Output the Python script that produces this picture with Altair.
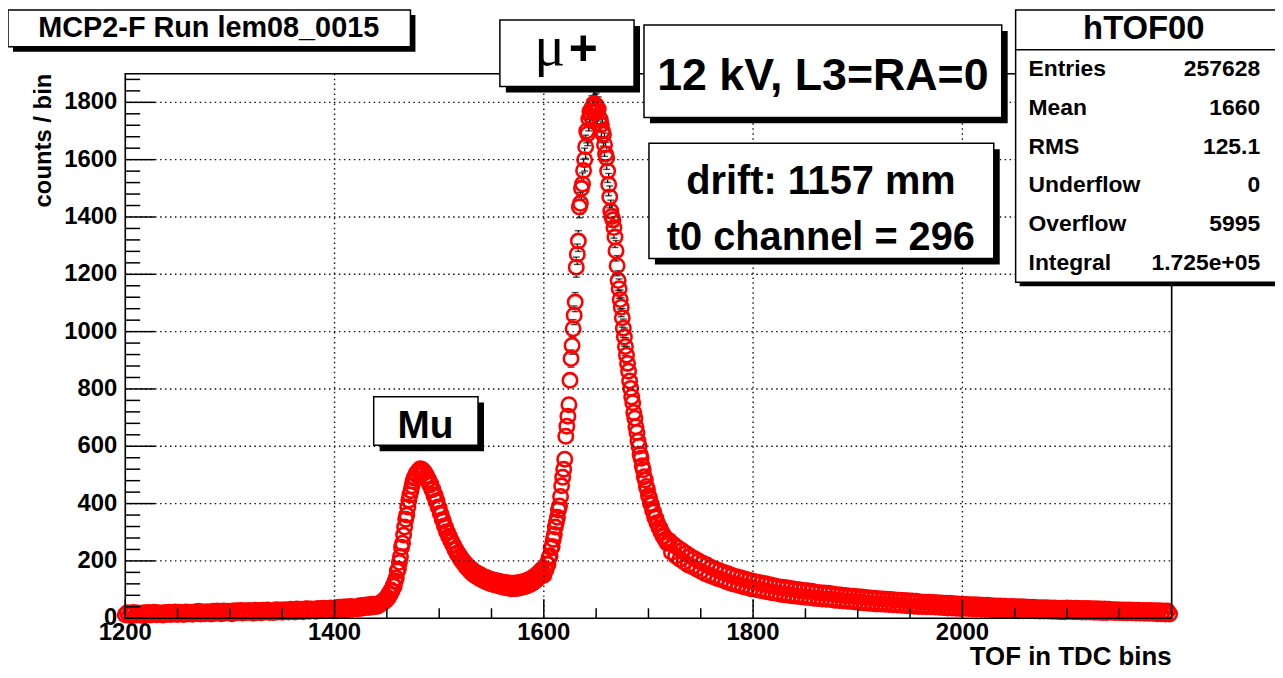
import altair as alt
import pandas as pd

# ---------------- data ----------------
# TOF histogram, counts per bin.  Stretches, each with start bin and bin step.
low_start, low_step = 1200, 2
low_counts = [
    12, 19, 10, 17, 20, 11, 18, 14, 10, 19,
    13, 20, 11, 18, 21, 12, 19, 15, 11, 20,
    14, 21, 13, 19, 22, 13, 21, 16, 13, 22,
    16, 21, 14, 22, 17, 24, 15, 22, 16, 23,
    19, 15, 24, 17, 25, 18, 16, 25, 18, 24,
    20, 16, 26, 19, 25, 27, 18, 26, 20, 27,
    21, 18, 28, 20, 27, 19, 28, 22, 29, 20,
    23, 20, 30, 22, 29, 21, 30, 24, 22, 31,
    25, 22, 32, 24, 31, 23, 32, 33, 24, 32,
    27, 24, 34, 26, 33, 35, 26, 34, 36, 27,
    31, 27, 38, 29, 39, 30, 40, 31, 41, 32,
    37, 33, 44, 35, 45, 37, 47, 38, 49, 40,
]
mu_start, mu_step = 1440, 1
mu_counts = [
    46, 42, 50, 47, 55, 51, 58, 56, 66, 62,
    74, 70, 86, 82, 98, 96, 114, 112, 130, 140,
    165, 172, 195, 215, 248, 262, 290, 318, 345, 360,
    388, 412, 430, 445, 462, 478, 490, 488, 505, 498,
    515, 508, 522, 512, 518, 506, 510, 494, 498, 480,
    484, 465, 468, 448, 450, 428, 430, 408, 410, 388,
    385, 366, 362, 344, 340, 322, 318, 302, 300, 286,
    284, 270, 268, 256, 254, 240, 240, 226, 228, 214,
    216, 202, 206, 193, 196, 182, 188, 174, 180, 166,
    174, 158, 168, 152, 162, 147, 158, 142, 154, 138,
    150, 134, 146, 130, 143, 127, 140, 124, 137, 121,
    135, 119, 133, 117, 131, 115, 130, 113, 128, 111,
    126, 109, 125, 107, 124, 106, 123, 105, 122, 104,
    122, 104, 122, 104, 123, 105, 124, 106, 125, 108,
    127, 110, 129, 112, 132, 115, 135, 118, 139, 122,
    144, 127, 149, 133, 155, 140, 162, 148, 170, 158,
]
peak_start, peak_step = 1600, 1
peak_counts = [
    150, 172, 168, 190, 188, 212, 218, 245, 250, 275,
    292, 318, 335, 352, 378, 392, 425, 462, 492, 520,
    555, 635, 670, 705, 745, 830, 906, 952, 1010, 1057,
    1103, 1225, 1270, 1316, 1435, 1448, 1500, 1515, 1562, 1600,
    1645, 1700, 1690, 1742, 1768, 1752, 1781, 1770, 1796, 1785,
    1790, 1768, 1777, 1745, 1738, 1722, 1700, 1688, 1652, 1620,
    1606, 1560, 1513, 1470, 1421, 1402, 1390, 1363, 1330, 1282,
    1230, 1178, 1150, 1112, 1085, 1048, 1012, 981, 948, 918,
    889, 862, 828, 802, 772, 752, 718, 698, 668, 648,
    618, 600, 572, 558, 532, 518, 494, 482, 460, 450,
    428, 420, 400, 396, 376, 370, 352, 350, 333, 330,
    316, 315, 300, 299, 286, 287, 274, 276, 262, 266,
]
tail_start, tail_step = 1720, 2
tail_counts = [
    270, 230, 257, 217, 246, 206, 236, 196, 226, 186,
    216, 180, 208, 172, 200, 164, 192, 156, 186, 150,
    177, 145, 171, 139, 166, 134, 160, 128, 155, 123,
    149, 119, 145, 115, 141, 111, 137, 107, 133, 103,
    129, 101, 126, 98, 123, 95, 120, 92, 117, 89,
    113, 87, 110, 84, 108, 82, 106, 80, 104, 78,
    101, 77, 99, 75, 97, 73, 96, 72, 94, 70,
    91, 69, 89, 67, 88, 66, 87, 65, 85, 63,
    82, 62, 81, 61, 79, 59, 78, 58, 77, 57,
    75, 55, 74, 54, 72, 52, 71, 51, 70, 50,
    68, 50, 67, 49, 66, 48, 65, 47, 64, 46,
    63, 45, 62, 44, 61, 43, 60, 42, 59, 41,
    57, 41, 56, 40, 56, 40, 55, 39, 54, 38,
    53, 37, 52, 36, 52, 36, 51, 35, 50, 34,
    49, 35, 48, 34, 47, 33, 47, 33, 46, 32,
    45, 31, 45, 31, 44, 30, 43, 29, 43, 29,
    42, 28, 41, 27, 41, 27, 40, 26, 40, 26,
    39, 27, 38, 26, 38, 26, 37, 25, 37, 25,
    37, 25, 36, 24, 36, 24, 35, 23, 35, 23,
    36, 24, 35, 23, 35, 23, 34, 22, 34, 22,
    34, 22, 33, 21, 33, 21, 32, 20, 32, 20,
    31, 21, 30, 20, 30, 20, 29, 19, 29, 19,
    29, 19, 28, 18, 28, 18, 27, 17, 27, 17,
    27, 17, 26, 16, 26, 16, 25, 15, 25, 15,
]

x_domain = [1200, 2200]
y_domain = [0, 1900]
x_tick_labels = [1200, 1400, 1600, 1800, 2000]
y_tick_labels = [0, 200, 400, 600, 800, 1000, 1200, 1400, 1600, 1800]
x_minor_ticks = [v for v in range(1250, 2200, 50) if v % 200 != 0]
y_minor_ticks = [v for v in range(40, 1900, 40) if v % 200 != 0]

title_text = "MCP2-F Run lem08_0015"
x_title = "TOF in TDC bins"
y_title = "counts / bin"
stats_name = "hTOF00"
stats_labels = ["Entries", "Mean", "RMS", "Underflow", "Overflow", "Integral"]
stats_values = ["257628", "1660", "125.1", "0", "5995", "1.725e+05"]
mu_plus_text = ["\u03bc", "+"]
mu_text = "Mu"
energy_text = "12 kV, L3=RA=0"
drift_lines = ["drift: 1157 mm", "t0 channel = 296"]

# ---------------- table ----------------
tof, cnt = [], []
for start, step, vals in [(low_start, low_step, low_counts),
                          (mu_start, mu_step, mu_counts),
                          (peak_start, peak_step, peak_counts),
                          (tail_start, tail_step, tail_counts)]:
    for i, v in enumerate(vals):
        tof.append(start + step * i)
        cnt.append(v)
hist = pd.DataFrame({"tof": tof, "count": cnt})

# ---------------- layout ----------------
W, H = 1053, 548
FONT = "Liberation Sans"
xs = alt.Scale(domain=x_domain, nice=False, zero=False)
ys = alt.Scale(domain=y_domain, nice=False, zero=False)
R = 30  # marker radius in count units (error bars start outside marker)


def one():
    return alt.Chart(pd.DataFrame({"k": [0]}))


def box(x1, y1, x2, y2, sh=5):
    shadow = one().mark_rect(color="black").encode(
        x=alt.value(x1 + sh), x2=alt.value(x2 + sh),
        y=alt.value(y1 + sh), y2=alt.value(y2 + sh))
    face = one().mark_rect(fill="white", stroke="black", strokeWidth=1.5).encode(
        x=alt.value(x1), x2=alt.value(x2), y=alt.value(y1), y2=alt.value(y2))
    return [shadow, face]


def label(s, x, y, size, align="center", weight="bold", font=FONT, angle=0,
          baseline="alphabetic"):
    return one().mark_text(align=align, baseline=baseline, fontSize=size, angle=angle,
                           fontWeight=weight, font=font, color="black").encode(
        x=alt.value(x), y=alt.value(y), text=alt.value(s))


base = alt.Chart(hist)
xe = alt.X("tof:Q", scale=xs, axis=None)
points = base.mark_point(shape="circle", filled=False, size=210, strokeWidth=2.6,
                         color="#ff0000", opacity=1).encode(
    x=xe, y=alt.Y("count:Q", scale=ys, axis=None))

err = base.transform_calculate(err="sqrt(datum.count)").transform_filter(
    f"datum.err > {R}").transform_calculate(
    up1=f"datum.count + {R}", up2="datum.count + datum.err",
    dn1="datum.count - datum.err", dn2=f"datum.count - {R}")
err_up = err.mark_rule(color="black", strokeWidth=1.4).encode(
    x=xe, y=alt.Y("up1:Q", scale=ys, axis=None), y2="up2:Q")
err_dn = err.mark_rule(color="black", strokeWidth=1.4).encode(
    x=xe, y=alt.Y("dn1:Q", scale=ys, axis=None), y2="dn2:Q")
cap_up = err.mark_tick(color="black", thickness=1.4, size=7, orient="horizontal").encode(
    x=xe, y=alt.Y("up2:Q", scale=ys, axis=None))
cap_dn = err.mark_tick(color="black", thickness=1.4, size=7, orient="horizontal").encode(
    x=xe, y=alt.Y("dn1:Q", scale=ys, axis=None))

grid_style = dict(color="#111111", strokeDash=[1.5, 3.5], strokeWidth=1.4)
x_grid = alt.Chart(pd.DataFrame({"v": x_tick_labels[1:]})).mark_rule(**grid_style).encode(
    x=alt.X("v:Q", scale=xs, axis=None), y=alt.value(0), y2=alt.value(H))
y_grid = alt.Chart(pd.DataFrame({"v": y_tick_labels[1:]})).mark_rule(**grid_style).encode(
    y=alt.Y("v:Q", scale=ys, axis=None), x=alt.value(0), x2=alt.value(W))

tick_style = dict(color="black", strokeWidth=1.5)
x_major = alt.Chart(pd.DataFrame({"v": x_tick_labels})).mark_rule(**tick_style).encode(
    x=alt.X("v:Q", scale=xs, axis=None), y=alt.value(H), y2=alt.value(H - 19))
x_minor = alt.Chart(pd.DataFrame({"v": x_minor_ticks})).mark_rule(**tick_style).encode(
    x=alt.X("v:Q", scale=xs, axis=None), y=alt.value(H), y2=alt.value(H - 10))
y_major = alt.Chart(pd.DataFrame({"v": y_tick_labels})).mark_rule(**tick_style).encode(
    y=alt.Y("v:Q", scale=ys, axis=None), x=alt.value(0), x2=alt.value(30))
y_minor = alt.Chart(pd.DataFrame({"v": y_minor_ticks})).mark_rule(**tick_style).encode(
    y=alt.Y("v:Q", scale=ys, axis=None), x=alt.value(0), x2=alt.value(15))

# axis labels, drawn through the scales
x_labels = alt.Chart(pd.DataFrame({"v": x_tick_labels})).mark_text(
    font=FONT, fontSize=24, fontWeight="bold", color="black", baseline="top",
    align="center").encode(
    x=alt.X("v:Q", scale=xs, axis=None), y=alt.value(H + 3), text=alt.Text("v:Q", format="d"))
y_labels = alt.Chart(pd.DataFrame({"v": y_tick_labels})).mark_text(
    font=FONT, fontSize=24, fontWeight="bold", color="black", baseline="middle",
    align="right").encode(
    y=alt.Y("v:Q", scale=ys, axis=None), x=alt.value(-8), text=alt.Text("v:Q", format="d"))

frame = one().mark_rect(fillOpacity=0, stroke="black", strokeWidth=1.6).encode(
    x=alt.value(0), x2=alt.value(W), y=alt.value(0), y2=alt.value(H))

layers = [err_up, err_dn, cap_up, cap_dn, points, x_grid, y_grid,
          x_major, x_minor, y_major, y_minor, frame, x_labels, y_labels]
layers.append(label(x_title, W, H + 47, 26, align="right"))
layers.append(label(y_title, -82, 0, 24, align="right", angle=270, baseline="middle"))

# title box
layers += box(-118, -64, 287, -27, sh=5)
layers.append(label(title_text, 84, -37, 29))
# mu+ box
layers += box(377, -54, 512, 13, sh=6)
layers.append(label(mu_plus_text[0], 427, -9, 58, weight="normal", font="Liberation Serif"))
layers.append(label(mu_plus_text[1], 461, -9, 50))
# energy box
layers += box(522, -49, 882, 44, sh=6)
layers.append(label(energy_text, 702, 16, 45))
# drift box
layers += box(527, 70, 874, 186, sh=6)
layers.append(label(drift_lines[0], 700, 121, 40))
layers.append(label(drift_lines[1], 700, 177, 40))
# Mu box
layers += box(250, 325, 355, 374, sh=6)
layers.append(label(mu_text, 302, 367, 39))
# stats box
layers += box(896, -64, 1175, 210, sh=4)
layers.append(one().mark_rule(color="black", strokeWidth=1.5).encode(
    x=alt.value(896), x2=alt.value(1175), y=alt.value(-24)))
layers.append(label(stats_name, 1025, -35, 33))
for i, (lab, val) in enumerate(zip(stats_labels, stats_values)):
    yb = 2.5 + 39 * i
    layers.append(label(lab, 909, yb, 23, align="left"))
    layers.append(label(val, 1142, yb, 23, align="right"))

chart = alt.layer(*layers).properties(
    width=W, height=H,
    padding={"left": 118, "top": 64, "right": 104, "bottom": 50},
    autosize=alt.AutoSizeParams(type="none"),
).configure_view(strokeWidth=0).configure(background="white")

chart.save("out.html", embed_options={"renderer": "svg", "actions": False})
